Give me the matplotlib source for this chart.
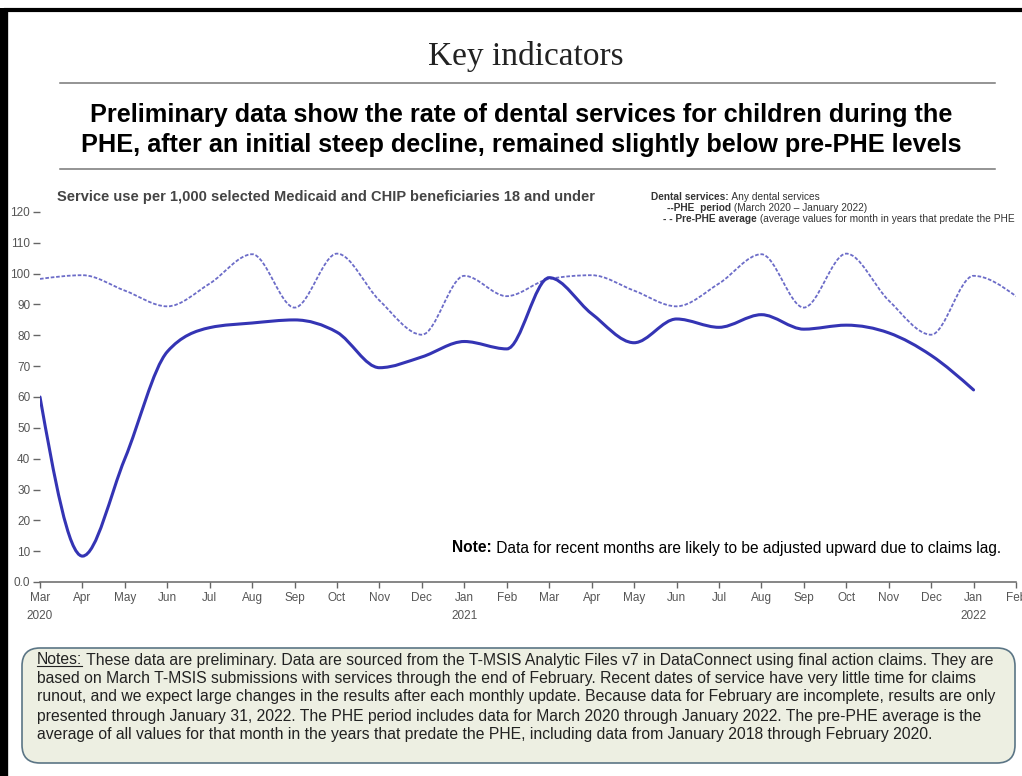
import numpy as np
import matplotlib
matplotlib.use('Agg')
import matplotlib.pyplot as plt
from matplotlib.path import Path
from matplotlib.patches import PathPatch, FancyBboxPatch

plt.rcParams['font.family'] = ['Liberation Sans', 'DejaVu Sans']

# monthly axis, Mar 2020 .. Feb 2022
months = ['Mar', 'Apr', 'May', 'Jun', 'Jul', 'Aug', 'Sep', 'Oct', 'Nov', 'Dec', 'Jan', 'Feb',
          'Mar', 'Apr', 'May', 'Jun', 'Jul', 'Aug', 'Sep', 'Oct', 'Nov', 'Dec', 'Jan', 'Feb']
years = {0: '2020', 10: '2021', 22: '2022'}

# dental services per 1,000 beneficiaries during the PHE (Mar 2020 - Jan 2022)
phe_rate = [60.0, 8.4, 40.0, 74.7, 82.5, 84.0, 85.0, 81.0, 69.5, 73.0, 78.0, 75.6,
            98.7, 87.0, 77.6, 85.3, 82.6, 86.7, 82.0, 83.3, 80.8, 73.5, 62.3]
# pre-PHE average for each calendar month, Mar .. Feb
pre_phe_month_avg = [98.3, 99.5, 94.5, 89.4, 96.8, 106.3, 89.0, 106.5, 91.3, 80.2, 99.3, 92.7]
pre_phe_avg = pre_phe_month_avg * 2

y_ticks = [0, 10, 20, 30, 40, 50, 60, 70, 80, 90, 100, 110, 120]
y_tick_labels = ['0.0'] + [str(v) for v in y_ticks[1:]]

title = 'Key indicators'
headline = ('Preliminary data show the rate of dental services for children during the\n'
            'PHE, after an initial steep decline, remained slightly below pre-PHE levels')
subtitle = 'Service use per 1,000 selected Medicaid and CHIP beneficiaries 18 and under'
notes_lines = [
    ' These data are preliminary. Data are sourced from the T-MSIS Analytic Files v7 in DataConnect using final action claims. They are',
    'based on March T-MSIS submissions with services through the end of February. Recent dates of service have very little time for claims',
    'runout, and we expect large changes in the results after each monthly update. Because data for February are incomplete, results are only',
    'presented through January 31, 2022. The PHE period includes data for March 2020 through January 2022. The pre-PHE average is the',
    'average of all values for that month in the years that predate the PHE, including data from January 2018 through February 2020.',
]

PHE_COLOR = '#3434b4'
PRE_COLOR = '#6c6cc8'
GREY = '#555555'


def monotone_path(x, y):
    """cubic bezier path with monotone-x tangents"""
    x = np.asarray(x, float)
    y = np.asarray(y, float)
    h = np.diff(x)
    s = np.diff(y) / h
    n = len(x)
    t = np.zeros(n)
    sg = np.where(s < 0, -1.0, 1.0)
    for i in range(1, n - 1):
        p = (s[i - 1] * h[i] + s[i] * h[i - 1]) / (h[i - 1] + h[i])
        t[i] = (sg[i - 1] + sg[i]) * min(abs(s[i - 1]), abs(s[i]), 0.5 * abs(p))
    t[0] = (3 * s[0] - t[1]) / 2
    t[-1] = (3 * s[-1] - t[-2]) / 2
    verts = [(x[0], y[0])]
    codes = [Path.MOVETO]
    for i in range(n - 1):
        dx = h[i] / 3
        verts += [(x[i] + dx, y[i] + dx * t[i]),
                  (x[i + 1] - dx, y[i + 1] - dx * t[i + 1]),
                  (x[i + 1], y[i + 1])]
        codes += [Path.CURVE4] * 3
    return Path(verts, codes)


fig = plt.figure(figsize=(10.22, 7.76), dpi=100)
fig.patch.set_facecolor('white')

# chart area
ax = fig.add_axes([40 / 1022, 1 - 582 / 776, 976 / 1022, 370 / 776])
ax.set_xlim(0, len(months) - 1)
ax.set_ylim(0, 120)
for side in ['top', 'right', 'left']:
    ax.spines[side].set_visible(False)
ax.spines['bottom'].set_color('#666666')
ax.spines['bottom'].set_linewidth(1.1)

ax.add_patch(PathPatch(monotone_path(range(len(pre_phe_avg)), pre_phe_avg), fill=False,
                       edgecolor=PRE_COLOR, lw=1.3, linestyle=(0, (2.0, 1.0)), zorder=3))
ax.add_patch(PathPatch(monotone_path(range(len(phe_rate)), phe_rate), fill=False,
                       edgecolor=PHE_COLOR, lw=2.2, zorder=4, capstyle='round'))

ax.set_yticks(y_ticks)
ax.set_yticklabels(y_tick_labels)
ax.set_xticks(range(len(months)))
ax.set_xticklabels([m + ('\n' + years[i] if i in years else '') for i, m in enumerate(months)],
                   linespacing=1.75)
ax.tick_params(axis='y', length=5, width=1.0, color='#666666', labelcolor=GREY, labelsize=8.5, pad=2)
ax.tick_params(axis='x', length=4, width=1.0, color='#666666', labelcolor=GREY, labelsize=8.5, pad=3)
for lbl in ax.get_xticklabels():
    lbl.set_verticalalignment('top')

# decoration layer in pixel units
deco = fig.add_axes([0, 0, 1, 1], zorder=5)
deco.set_xlim(0, 1022)
deco.set_ylim(776, 0)
deco.axis('off')
deco.patch.set_alpha(0)

deco.plot([4, 1022], [9.5, 9.5], color='black', lw=3.0, solid_capstyle='butt')
deco.plot([4, 4], [8, 776], color='black', lw=6.0, solid_capstyle='butt')
deco.plot([60, 995], [83, 83], color='#777777', lw=1.1)
deco.plot([60, 995], [169, 169], color='#777777', lw=1.1)

deco.text(526, 56, title, ha='center', va='center', fontsize=24,
          family=['Liberation Serif', 'DejaVu Serif'], color='#222222')
deco.text(521, 130, headline, ha='center', va='center', fontsize=18.2, fontweight='bold',
          color='black', linespacing=1.36)
deco.text(57, 197, subtitle, ha='left', va='center', fontsize=10.5, fontweight='bold', color='#444444')

fig.canvas.draw()
renderer = fig.canvas.get_renderer()
inv = deco.transData.inverted()


def put(x, y, s, **kw):
    t = deco.text(x, y, s, va='center', ha='left', **kw)
    bb = t.get_window_extent(renderer)
    return inv.transform((bb.x1, bb.y0))[0]


# legend block
legend_rows = [
    (651, 197, 'Dental services:', ' Any dental services'),
    (667, 208, '--PHE  period', ' (March 2020 \u2013 January 2022)'),
    (663, 219, '- - Pre-PHE average', ' (average values for month in years that predate the PHE'),
]
for lx, ly, bold, rest in legend_rows:
    end = put(lx, ly, bold, fontsize=7.3, fontweight='bold', color='#333333')
    put(end, ly, rest, fontsize=7.3, color='#333333')

# claims lag note
end = put(452, 548, 'Note:', fontsize=11.2, fontweight='bold', color='black')
put(end, 548, ' Data for recent months are likely to be adjusted upward due to claims lag.',
    fontsize=11.2, color='black')

# notes box
deco.add_patch(FancyBboxPatch((22, 648), 993, 115, boxstyle='round,pad=0,rounding_size=18',
                              facecolor='#edefe2', edgecolor='#5b7585', lw=1.2, zorder=1))
note_y = [660, 678, 697, 716, 734]
end = put(37, note_y[0], 'Notes:', fontsize=11.3, color='#222222')
deco.plot([37, end], [note_y[0] + 6, note_y[0] + 6], color='#222222', lw=0.8)
put(end, note_y[0], notes_lines[0], fontsize=11.3, color='#222222')
for yy, line in zip(note_y[1:], notes_lines[1:]):
    put(37, yy, line, fontsize=11.3, color='#222222')

fig.savefig('out.png', dpi=100)
